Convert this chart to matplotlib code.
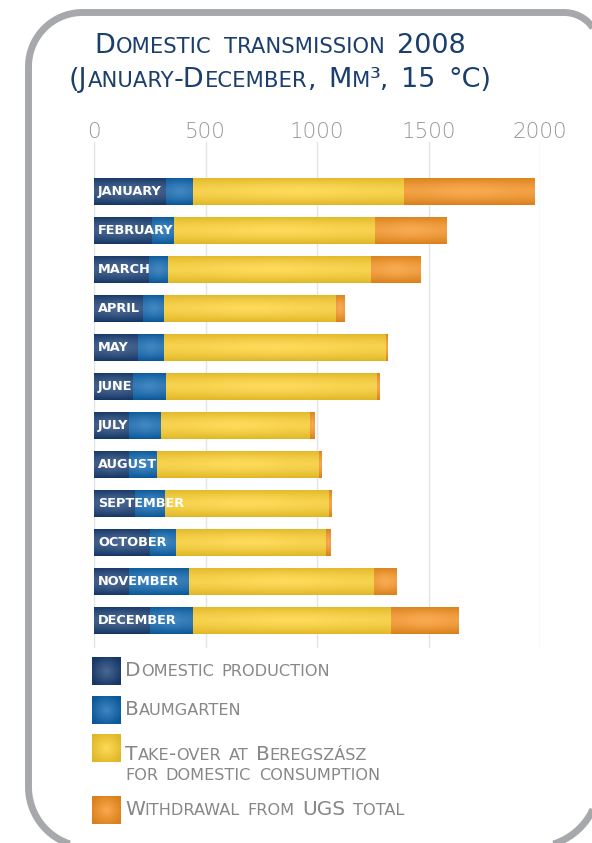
import numpy as np
import matplotlib
matplotlib.use("Agg")
import matplotlib.pyplot as plt
import matplotlib.colors as mcolors
from matplotlib.offsetbox import TextArea, HPacker, VPacker, AnnotationBbox
from matplotlib.patches import PathPatch
from matplotlib.path import Path

# ---------------- data ----------------
months = ["January", "February", "March", "April", "May", "June",
          "July", "August", "September", "October", "November", "December"]
domestic_production = [321, 262, 248, 220, 199, 177, 159, 159, 182, 253, 159, 253]
baumgarten = [124, 98, 85, 95, 116, 147, 143, 125, 138, 116, 265, 192]
beregszasz = [943, 902, 911, 768, 994, 944, 665, 725, 734, 673, 830, 888]
ugs_withdrawal = [584, 321, 223, 36, 8, 9, 20, 11, 13, 18, 100, 304]
series_names = ["Domestic production", "Baumgarten",
                "Take-over at Beregszász\nfor domestic consumption",
                "Withdrawal from UGS total"]
x_ticks = [0, 500, 1000, 1500, 2000]
title_lines = ["Domestic transmission 2008", "(January-December, Mm³, 15 °C)"]

colors = ["#183e74", "#0b64ae", "#fed02c", "#f7921f"]
TITLE_COLOR = "#1b3f6d"
TEXT_GRAY = "#878787"
TICK_GRAY = "#959595"
BORDER = "#a7a8ab"
FAMILY = "DejaVu Sans"

W, H = 592, 843
fig = plt.figure(figsize=(W / 100, H / 100), dpi=100)
fig.patch.set_facecolor("white")

# overlay axes in pixel coordinates (y downward)
ov = fig.add_axes([0, 0, 1, 1], zorder=0)
ov.set_xlim(0, W)
ov.set_ylim(H, 0)
ov.axis("off")

# main chart axes
ax = fig.add_axes([94 / W, 1 - 648 / H, 446 / W, 506 / H], zorder=1)
ax.set_facecolor("none")


def shade(base, amount):
    c = np.array(mcolors.to_rgb(base))
    if amount >= 0:
        return c + (1 - c) * amount
    return c * (1 + amount)


def gradient_image(base, nx=64, ny=32, radial=False):
    xs = np.linspace(-1, 1, nx)
    ys = np.linspace(-1, 1, ny)
    X, Y = np.meshgrid(xs, ys)
    if radial:
        t = np.clip(1 - np.sqrt(X ** 2 + Y ** 2) / 1.2, 0, 1)
    else:
        t = np.clip(1 - np.abs(Y) ** 1.6, 0, 1) * (0.75 + 0.25 * np.exp(-(X / 0.6) ** 2))
    dark = shade(base, -0.12)
    light = shade(base, 0.22)
    img = dark[None, None, :] + (light - dark)[None, None, :] * t[:, :, None]
    return np.clip(img, 0, 1)


series = [domestic_production, baumgarten, beregszasz, ugs_withdrawal]
ypos = np.arange(len(months))
left = np.zeros(len(months))
bar_h = 0.7
for vals, col in zip(series, colors):
    bars = ax.barh(ypos, vals, left=left, height=bar_h, color=col, zorder=2, linewidth=0)
    for p in bars.patches:
        x0, y0 = p.get_xy()
        w, h = p.get_width(), p.get_height()
        if w <= 0:
            continue
        im = ax.imshow(gradient_image(col), extent=[x0, x0 + w, y0 + h, y0],
                       aspect="auto", zorder=2.1, interpolation="bilinear")
        im.set_clip_path(p)
    left = left + np.array(vals)

for i, m in enumerate(months):
    ax.annotate(m.upper(), xy=(0, i), xytext=(4, 0), textcoords="offset pixels",
                va="center", ha="left", color="white", fontsize=9.3,
                fontweight="bold", family=FAMILY, zorder=5)

ax.set_xlim(0, 2000)
ax.set_ylim(11.705, -1.27)
ax.set_xticks(x_ticks)
ax.set_xticklabels([str(t) for t in x_ticks])
ax.xaxis.tick_top()
ax.tick_params(axis="x", length=0, pad=0, labelsize=15.5, labelcolor=TICK_GRAY)
for lab in ax.get_xticklabels():
    lab.set_fontweight("light")
    lab.set_family(FAMILY)
ax.set_yticks([])
ax.xaxis.grid(True, color="#e4e4e4", linewidth=1.0)
ax.set_axisbelow(True)
for s in ax.spines.values():
    s.set_visible(False)


# ---------------- small caps text helper ----------------
def smallcaps(text, size, color, ratio=0.78, line_sep=4, word_sep=None):
    if word_sep is None:
        word_sep = size * 0.45
    lines = []
    for line in text.split("\n"):
        words = []
        for word in line.split(" "):
            segs = []
            cur = None
            buf = ""
            for ch in word:
                cls = "s" if ch.islower() else "b"
                if cur is not None and cls != cur:
                    segs.append((cur, buf))
                    buf = ""
                cur = cls
                buf += ch
            if buf:
                segs.append((cur, buf))
            items = [TextArea(s.upper(), textprops=dict(
                fontsize=size if c == "b" else size * ratio,
                color=color, family=FAMILY)) for c, s in segs]
            words.append(HPacker(children=items, align="baseline", pad=0, sep=0))
        lines.append(HPacker(children=words, align="baseline", pad=0, sep=word_sep))
    if len(lines) == 1:
        return lines[0]
    return VPacker(children=lines, align="left", pad=0, sep=line_sep)


def place(box, x, y, align=(0.5, 0.5)):
    ab = AnnotationBbox(box, (x, y), xycoords="data", frameon=False,
                        box_alignment=align, pad=0, zorder=3)
    ov.add_artist(ab)


# title
place(smallcaps(title_lines[0], 19.5, TITLE_COLOR), 280, 46)
place(smallcaps(title_lines[1], 19.5, TITLE_COLOR), 280, 80)

# legend
leg_rows = [671, 710, 748.5, 810]
for name, col, yc in zip(series_names, colors, leg_rows):
    ov.imshow(gradient_image(col, 32, 32, radial=True),
              extent=[92, 121, yc + 14, yc - 14], aspect="auto", zorder=2,
              interpolation="bilinear")
    if "\n" in name:
        place(smallcaps(name, 14.5, TEXT_GRAY, ratio=0.8, line_sep=3, word_sep=5.5),
              125, yc + 7, align=(0, 0.72))
    else:
        place(smallcaps(name, 14.5, TEXT_GRAY, ratio=0.8, word_sep=5.5),
              125, yc, align=(0, 0.45))
ov.set_xlim(0, W)
ov.set_ylim(H, 0)

# rounded border (pixel geometry)
L, T, R, B = 28.5, 12.5, 599, 847
rTL, rTR, rBR, rBL = 54, 35, 65, 60


def arc(cx, cy, r, a0, a1, n=30):
    a = np.radians(np.linspace(a0, a1, n))
    return np.column_stack([cx + r * np.cos(a), cy + r * np.sin(a)])


pts = np.vstack([
    arc(L + rTL, T + rTL, rTL, 180, 270),
    arc(R - rTR, T + rTR, rTR, 270, 360),
    arc(R - rBR, B - rBR, rBR, 0, 90),
    arc(L + rBL, B - rBL, rBL, 90, 180),
    [[L, T + rTL]],
])
ov.add_patch(PathPatch(Path(pts), facecolor="none", edgecolor=BORDER,
                       linewidth=5.0, zorder=1))

fig.savefig("out.png", dpi=100, facecolor="white")
